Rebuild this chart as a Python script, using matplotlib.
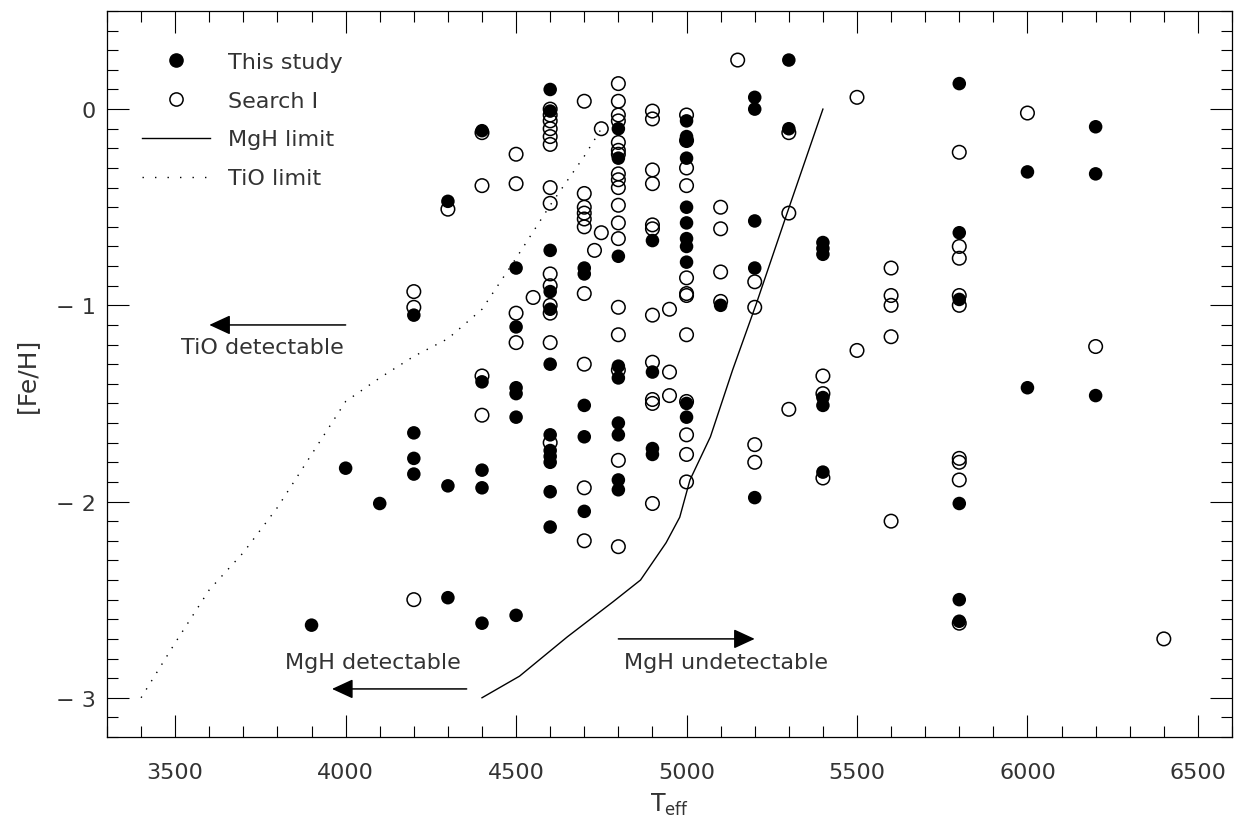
import matplotlib
matplotlib.use('Agg')
import matplotlib.pyplot as plt
from matplotlib.lines import Line2D
from matplotlib.ticker import MultipleLocator

# --- data ---
# This study (filled)
this_teff = ([3900, 4000, 4100]
             + [4200] * 4 + [4300] * 3 + [4400] * 5 + [4500] * 6
             + [4600] * 12 + [4700] * 5 + [4800] * 9 + [4900] * 4
             + [5000] * 11 + [5100] + [5200] * 5 + [5300] * 2 + [5400] * 6
             + [5800] * 6 + [6000] * 2 + [6200] * 3)
this_feh = ([-2.63, -1.83, -2.01]
            + [-1.05, -1.65, -1.78, -1.86]
            + [-0.47, -1.92, -2.49]
            + [-0.11, -1.39, -1.84, -1.93, -2.62]
            + [-0.81, -1.11, -1.42, -1.45, -1.57, -2.58]
            + [0.10, -0.01, -0.72, -0.93, -1.02, -1.30, -1.66, -1.74, -1.77, -1.80, -1.95, -2.13]
            + [-0.81, -0.84, -1.51, -1.67, -2.05]
            + [-0.10, -0.25, -0.75, -1.31, -1.37, -1.60, -1.66, -1.89, -1.94]
            + [-0.67, -1.34, -1.73, -1.76]
            + [-0.06, -0.14, -0.16, -0.25, -0.50, -0.58, -0.66, -0.70, -0.78, -1.50, -1.57]
            + [-1.00]
            + [0.06, 0.00, -0.57, -0.81, -1.98]
            + [0.25, -0.10]
            + [-0.68, -0.71, -0.74, -1.47, -1.51, -1.85]
            + [0.13, -0.63, -0.97, -2.01, -2.50, -2.61]
            + [-0.32, -1.42]
            + [-0.09, -0.33, -1.46])

# Search I (open)
search_teff = ([4200] * 3 + [4300] + [4400] * 4 + [4500] * 4 + [4550]
               + [4600] * 14 + [4700] * 10 + [4730] + [4750] * 2
               + [4800] * 18 + [4900] * 11 + [4950] * 3 + [5000] * 12
               + [5100] * 4 + [5150] + [5200] * 4 + [5300] * 3 + [5400] * 3
               + [5500] * 2 + [5600] * 5 + [5800] * 9 + [6000] + [6200] + [6400])
search_feh = ([-0.93, -1.01, -2.50]
              + [-0.51]
              + [-0.12, -0.39, -1.36, -1.56]
              + [-0.23, -0.38, -1.04, -1.19]
              + [-0.96]
              + [0.00, -0.03, -0.06, -0.10, -0.14, -0.18, -0.40, -0.48, -0.84, -0.90, -1.00, -1.04, -1.19, -1.70]
              + [0.04, -0.43, -0.50, -0.53, -0.56, -0.60, -0.94, -1.30, -1.93, -2.20]
              + [-0.72]
              + [-0.10, -0.63]
              + [0.13, 0.04, -0.03, -0.06, -0.17, -0.21, -0.23, -0.33, -0.36, -0.40, -0.49, -0.58,
                 -0.66, -1.01, -1.15, -1.33, -1.79, -2.23]
              + [-0.01, -0.05, -0.31, -0.38, -0.59, -0.61, -1.05, -1.29, -1.48, -1.50, -2.01]
              + [-1.02, -1.34, -1.46]
              + [-0.03, -0.16, -0.30, -0.39, -0.86, -0.94, -0.95, -1.15, -1.49, -1.66, -1.76, -1.90]
              + [-0.50, -0.61, -0.83, -0.98]
              + [0.25]
              + [-0.88, -1.01, -1.71, -1.80]
              + [-0.12, -0.53, -1.53]
              + [-1.36, -1.45, -1.88]
              + [0.06, -1.23]
              + [-0.81, -0.95, -1.00, -1.16, -2.10]
              + [-0.22, -0.70, -0.76, -0.95, -1.00, -1.78, -1.80, -1.89, -2.62]
              + [-0.02]
              + [-1.21]
              + [-2.70])

# detection limits
mgh_teff = [4400, 4510, 4650, 4785, 4865, 4940, 4980, 5010, 5070, 5135, 5205, 5295, 5400]
mgh_feh = [-3.0, -2.89, -2.69, -2.51, -2.40, -2.21, -2.08, -1.89, -1.67, -1.33, -0.99, -0.53, 0.0]
tio_teff = [3400, 3500, 3600, 3700, 3800, 3900, 4000, 4100, 4200, 4300, 4400, 4500, 4600, 4700, 4750]
tio_feh = [-3.0, -2.72, -2.45, -2.26, -2.03, -1.76, -1.49, -1.37, -1.26, -1.17, -1.02, -0.76, -0.49, -0.24, -0.10]

plt.rcParams['font.family'] = ['DejaVu Sans']
txt_color = '#333333'
fs = 16

fig = plt.figure(figsize=(12.38, 8.2), dpi=100)
ax = fig.add_axes([107 / 1238, 1 - 738 / 820, 1125 / 1238, 726 / 820])

ax.plot(mgh_teff, mgh_feh, color='k', lw=1)
ax.plot(tio_teff, tio_feh, color='k', lw=1, linestyle=(0, (1, 6)))
ax.scatter(search_teff, search_feh, s=95, facecolors='none', edgecolors='k', linewidths=1.1, zorder=3)
ax.scatter(this_teff, this_feh, s=95, c='k', edgecolors='none', zorder=4)

ax.set_xlim(3300, 6600)
ax.set_ylim(-3.2, 0.5)
ax.xaxis.set_major_locator(MultipleLocator(500))
ax.xaxis.set_minor_locator(MultipleLocator(100))
ax.yaxis.set_major_locator(MultipleLocator(1))
ax.yaxis.set_minor_locator(MultipleLocator(0.1))
ax.yaxis.set_major_formatter(lambda v, p: '0' if abs(v) < 1e-9 else '\u2212 %d' % abs(round(v)))
ax.tick_params(which='both', direction='in', top=True, right=True, width=0.8,
               colors='k', labelcolor=txt_color, labelsize=16)
ax.tick_params(which='major', length=16)
ax.tick_params(which='minor', length=8)
ax.tick_params(axis='x', pad=18)
ax.tick_params(axis='y', pad=8)
for sp in ax.spines.values():
    sp.set_linewidth(0.9)

ax.set_xlabel('T$_{\\mathrm{eff}}$', fontsize=17, color=txt_color, labelpad=6)
ax.set_ylabel('[Fe/H]', fontsize=18, color=txt_color, labelpad=12)

# arrows and labels
arrow = dict(arrowstyle='-|>,head_length=0.65,head_width=0.3', color='k', lw=1.1,
             shrinkA=0, shrinkB=0, mutation_scale=20)
ax.annotate('', xy=(3600, -1.10), xytext=(4000, -1.10), arrowprops=arrow)
ax.text(3756, -1.21, 'TiO detectable', ha='center', va='center', fontsize=fs, color=txt_color)
ax.annotate('', xy=(3960, -2.955), xytext=(4355, -2.955), arrowprops=arrow)
ax.text(4080, -2.82, 'MgH detectable', ha='center', va='center', fontsize=fs, color=txt_color)
ax.annotate('', xy=(5200, -2.70), xytext=(4800, -2.70), arrowprops=arrow)
ax.text(5115, -2.82, 'MgH undetectable', ha='center', va='center', fontsize=fs, color=txt_color)

handles = [
    Line2D([], [], marker='o', color='k', linestyle='none', markersize=9.5),
    Line2D([], [], marker='o', markerfacecolor='none', markeredgecolor='k',
           linestyle='none', markersize=9.5, markeredgewidth=1.1),
    Line2D([], [], color='k', lw=1),
    Line2D([], [], color='k', lw=1, linestyle=(0, (1, 8))),
]
labels = ['This study', 'Search I', 'MgH limit', 'TiO limit']
leg = ax.legend(handles, labels, loc='upper left', bbox_to_anchor=(0.031, 0.944),
                frameon=False, fontsize=fs, handlelength=3.06, handletextpad=0.81,
                labelspacing=0.85, borderpad=0, borderaxespad=0, numpoints=1)
for t in leg.get_texts():
    t.set_color(txt_color)

fig.savefig('out.png', dpi=100)
